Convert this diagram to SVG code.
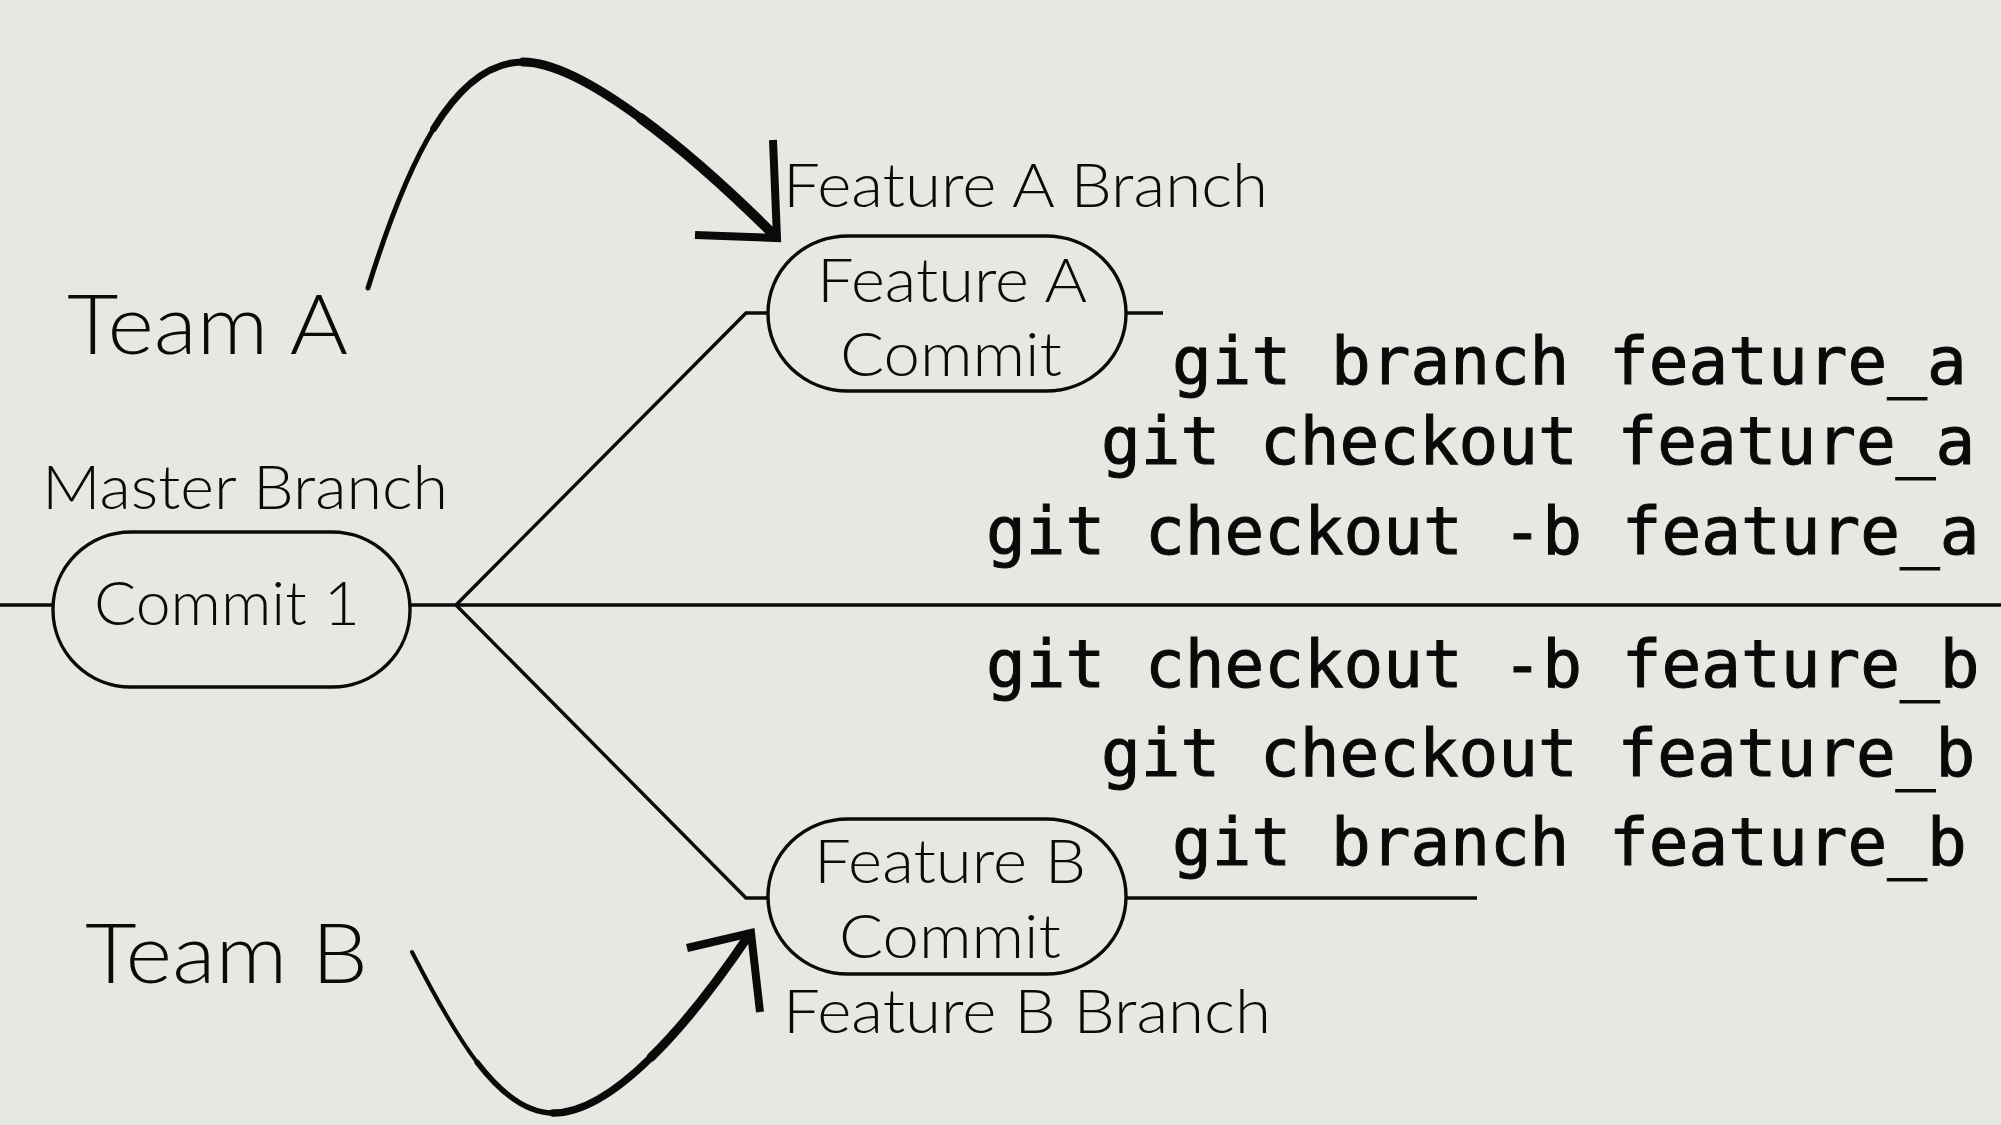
<svg xmlns="http://www.w3.org/2000/svg" width="2001" height="1125" viewBox="0 0 2001 1125">
<defs>
<style>
.bg{fill:#e8e8e2}
.pill{fill:none;stroke:#0a0a0a;stroke-width:3.4}
.ln{fill:none;stroke:#0a0a0a;stroke-width:3.4;stroke-linecap:butt}
.arr{fill:none;stroke:#0a0a0a;stroke-linecap:round}
.head{fill:none;stroke:#0a0a0a;stroke-width:8;stroke-linejoin:miter;stroke-miterlimit:10;stroke-linecap:butt}
.t{font-family:Lato,"Noto Sans","Open Sans",sans-serif;font-weight:300;fill:#0a0a0a}
.m{font-size:62px}
.big{font-size:83px}
.c{text-anchor:middle}
.git{font-family:"DejaVu Sans Mono","Liberation Mono",monospace;font-size:66px;fill:#0a0a0a;stroke:#0a0a0a;stroke-width:1}
</style>
</defs>
<rect class="bg" x="0" y="0" width="2001" height="1125"/>

<g id="connectors">
<line class="ln" x1="0" y1="605" x2="53" y2="605"/>
<line class="ln" x1="410" y1="605" x2="2001" y2="605"/>
<polyline class="ln" points="456,605 746,313 768,313"/>
<line class="ln" x1="1126" y1="313" x2="1163" y2="313"/>
<polyline class="ln" points="456,605 746,898 768,898"/>
<line class="ln" x1="1126" y1="898" x2="1477" y2="898"/>
</g>

<g id="node-commit1">
<rect class="pill" x="53" y="532" width="357" height="155" rx="78" ry="77"/>
<text class="t m c" x="227" y="625" textLength="266" lengthAdjust="spacingAndGlyphs">Commit 1</text>
</g>

<g id="node-featureA">
<rect class="pill" x="768" y="236" width="358" height="155" rx="80" ry="77"/>
<text class="t m c" x="952" y="302" textLength="270" lengthAdjust="spacingAndGlyphs">Feature A</text>
<text class="t m c" x="951" y="376" textLength="222" lengthAdjust="spacingAndGlyphs">Commit</text>
</g>

<g id="node-featureB">
<rect class="pill" x="768" y="819" width="358" height="155" rx="80" ry="77"/>
<text class="t m c" x="950" y="883" textLength="272" lengthAdjust="spacingAndGlyphs">Feature B</text>
<text class="t m c" x="950" y="958" textLength="222" lengthAdjust="spacingAndGlyphs">Commit</text>
</g>

<g id="labels">
<text class="t m" x="42" y="509" textLength="406" lengthAdjust="spacingAndGlyphs">Master Branch</text>
<text class="t m" x="783" y="207" textLength="485" lengthAdjust="spacingAndGlyphs">Feature A Branch</text>
<text class="t m" x="783" y="1033" textLength="488" lengthAdjust="spacingAndGlyphs">Feature B Branch</text>
<text class="t big" x="67" y="354" textLength="281" lengthAdjust="spacingAndGlyphs">Team A</text>
<text class="t big" x="85" y="983" textLength="283" lengthAdjust="spacingAndGlyphs">Team B</text>
</g>

<g id="arrow-teamA">
<path class="arr" stroke-width="5" d="M368,288 C387.25,226 408.5,169.5 433.7,128.5"/>
<path class="arr" stroke-width="7" d="M433.7,128.5 C458.9,87.5 488,62 523,62"/>
<path class="arr" stroke-width="9" d="M523,62 C553,62 595.25,84.75 640.6,118.1"/>
<path class="arr" stroke-width="10" d="M640.6,118.1 C686,151.5 734.5,195.5 775,236"/>
<polyline class="head" points="773,140 777,238 695,235"/>
</g>

<g id="arrow-teamB">
<path class="arr" stroke-width="4" d="M412,952 C432.5,992 454,1032.25 477.25,1062.5"/>
<path class="arr" stroke-width="5.5" d="M477.25,1062.5 C500.5,1092.75 525.5,1113 553,1113"/>
<path class="arr" stroke-width="7.5" d="M553,1113 C583,1113 617,1090.9 651.1,1057.3"/>
<path class="arr" stroke-width="9" d="M651.1,1057.3 C685.25,1023.75 719.5,978.75 749,935"/>
<polyline class="head" points="687,948 751,933 760,1012"/>
</g>

<g id="git-commands">
<text class="git" x="1172" y="384">git branch feature_a</text>
<text class="git" x="1101" y="464">git checkout feature_a</text>
<text class="git" x="986" y="554">git checkout -b feature_a</text>
<text class="git" x="986" y="687">git checkout -b feature_b</text>
<text class="git" x="1101" y="776">git checkout feature_b</text>
<text class="git" x="1172" y="865">git branch feature_b</text>
</g>
</svg>
